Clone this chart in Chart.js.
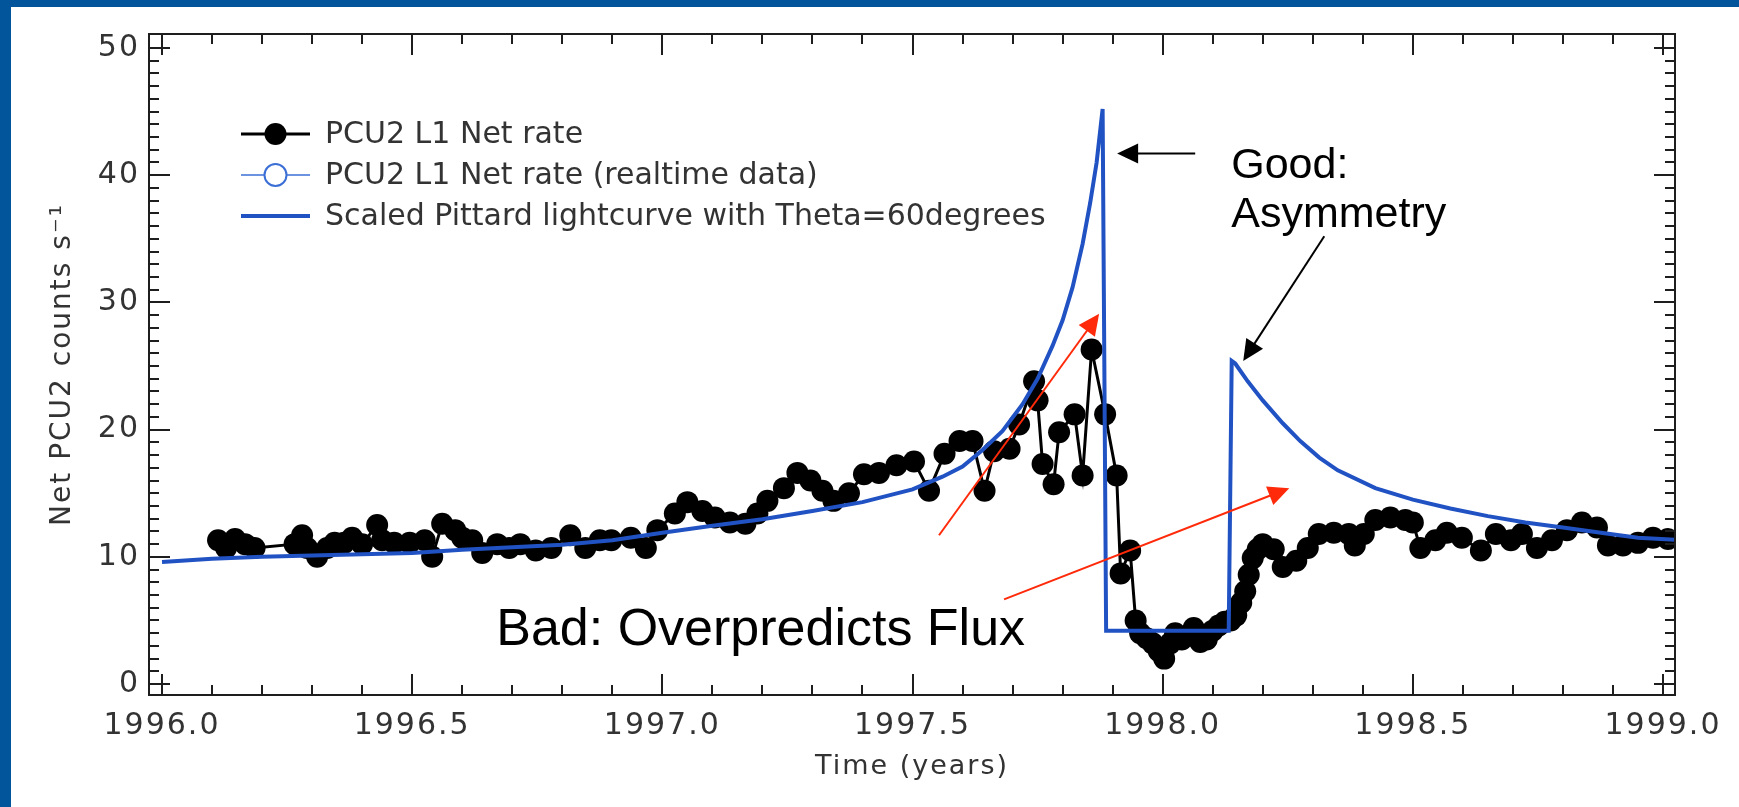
<!DOCTYPE html>
<html>
<head>
<meta charset="utf-8">
<title>PCU2 L1 Net rate vs Pittard lightcurve</title>
<script src="https://cdn.jsdelivr.net/npm/chart.js@4.4.1/dist/chart.umd.min.js"></script>
<style>
  html, body { margin: 0; padding: 0; background: #02549b; overflow: hidden; }
  #wrap { position: absolute; left: 11px; top: 7px; width: 1728px; height: 800px; background: #fff; }
</style>
</head>
<body>
<div id="wrap"><canvas id="chart" width="1728" height="800"></canvas></div>
<script>
// PCU2 L1 net rate (time in years, counts/s)
const rateYears = [
  1996.112, 1996.128, 1996.146, 1996.166, 1996.185, 1996.265, 1996.280, 1996.290, 1996.310, 1996.330,
  1996.345, 1996.364, 1996.380, 1996.400, 1996.430, 1996.440, 1996.464, 1996.495, 1996.525, 1996.540,
  1996.560, 1996.586, 1996.600, 1996.620, 1996.640, 1996.670, 1996.694, 1996.716, 1996.747, 1996.778,
  1996.816, 1996.846, 1996.875, 1996.898, 1996.937, 1996.967, 1996.990, 1997.025, 1997.050, 1997.080,
  1997.105, 1997.135, 1997.166, 1997.190, 1997.210, 1997.243, 1997.270, 1997.296, 1997.320, 1997.342,
  1997.373, 1997.403, 1997.433, 1997.468, 1997.503, 1997.533, 1997.564, 1997.594, 1997.620, 1997.644,
  1997.663, 1997.694, 1997.713, 1997.743, 1997.750, 1997.760, 1997.782, 1997.793, 1997.824, 1997.840,
  1997.858, 1997.885, 1997.908, 1997.916, 1997.935, 1997.946, 1997.955, 1997.968, 1997.980, 1997.992,
  1998.003, 1998.015, 1998.025, 1998.038, 1998.050, 1998.062, 1998.075, 1998.088, 1998.100, 1998.112,
  1998.124, 1998.136, 1998.147, 1998.157, 1998.165, 1998.172, 1998.180, 1998.190, 1998.200, 1998.222,
  1998.240, 1998.267, 1998.290, 1998.312, 1998.342, 1998.372, 1998.384, 1998.402, 1998.425, 1998.455,
  1998.485, 1998.500, 1998.515, 1998.545, 1998.568, 1998.598, 1998.636, 1998.666, 1998.696, 1998.718,
  1998.748, 1998.778, 1998.808, 1998.838, 1998.868, 1998.890, 1998.920, 1998.950, 1998.980, 1999.010
];
const rateValues = [
  11.3, 10.7, 11.4, 11.0, 10.7, 11.0, 11.7, 10.7, 10.0, 10.7,
  11.1, 11.1, 11.5, 11.0, 12.5, 11.3, 11.1, 11.1, 11.3, 10.0,
  12.6, 12.1, 11.5, 11.3, 10.3, 11.0, 10.7, 11.0, 10.5, 10.7,
  11.7, 10.7, 11.3, 11.3, 11.5, 10.7, 12.1, 13.4, 14.3, 13.6,
  13.1, 12.7, 12.6, 13.4, 14.4, 15.4, 16.6, 16.0, 15.2, 14.4,
  15.0, 16.5, 16.6, 17.2, 17.5, 15.2, 18.1, 19.1, 19.1, 15.2,
  18.3, 18.5, 20.4, 23.8, 22.3, 17.3, 15.7, 19.8, 21.2, 16.4,
  26.3, 21.2, 16.4, 8.7, 10.5, 5.0, 4.0, 3.6, 3.2, 2.6,
  2.0, 3.2, 4.0, 3.5, 3.8, 4.4, 3.3, 3.5, 4.2, 4.6,
  4.9, 5.0, 5.4, 6.4, 7.3, 8.6, 9.9, 10.6, 11.0, 10.6,
  9.2, 9.7, 10.7, 11.8, 11.9, 11.8, 10.9, 11.8, 12.9, 13.1,
  12.9, 12.7, 10.7, 11.3, 11.9, 11.5, 10.5, 11.8, 11.3, 11.8,
  10.7, 11.3, 12.1, 12.7, 12.3, 10.9, 10.9, 11.1, 11.5, 11.4
];

// scaled Pittard lightcurve, Theta = 60 degrees
const modelYears = [
  1996.00, 1996.10, 1996.20, 1996.30, 1996.40, 1996.50, 1996.60, 1996.70, 1996.80, 1996.90,
  1997.00, 1997.10, 1997.20, 1997.30, 1997.40, 1997.50, 1997.56, 1997.60, 1997.64, 1997.68,
  1997.72, 1997.75, 1997.78, 1997.80, 1997.82, 1997.84, 1997.855, 1997.868, 1997.880, 1997.887,
  1998.132, 1998.138, 1998.145, 1998.17, 1998.20, 1998.24, 1998.275, 1998.313, 1998.35, 1998.425,
  1998.50, 1998.575, 1998.65, 1998.725, 1998.80, 1998.876, 1998.95, 1999.024
];
const modelValues = [
  9.6, 9.85, 10.0, 10.1, 10.2, 10.3, 10.55, 10.75, 10.95, 11.3,
  11.9, 12.45, 12.95, 13.6, 14.3, 15.3, 16.3, 17.1, 18.4, 19.9,
  22.0, 24.0, 26.6, 28.6, 31.2, 34.6, 37.8, 41.0, 45.2, 4.2,
  4.2, 25.4, 25.2, 23.8, 22.3, 20.5, 19.1, 17.8, 16.8, 15.4,
  14.5, 13.8, 13.2, 12.7, 12.3, 11.9, 11.5, 11.35
];

// axis ranges (IDL style, slightly past the round numbers)
const xRange = [1995.974, 1999.024];
const yRange = [-0.86, 51.1];

// slide annotations, placed in data units
const notes = [
  { text: 'Good:', x: 1998.137, y: 39.8, font: '43px "Liberation Sans", Arial, sans-serif' },
  { text: 'Asymmetry', x: 1998.137, y: 35.9, font: '43px "Liberation Sans", Arial, sans-serif' },
  { text: 'Bad: Overpredicts Flux', x: 1996.668, y: 3.06, font: '52px "Liberation Sans", Arial, sans-serif' }
];
const arrows = [
  { from: [1998.065, 41.7], to: [1997.909, 41.7], color: '#000000' },
  { from: [1998.323, 35.2], to: [1998.161, 25.4], color: '#000000' },
  { from: [1997.553, 11.7], to: [1997.873, 29.1], color: '#ff2a0a' },
  { from: [1997.683, 6.66], to: [1998.253, 15.4], color: '#ff2a0a' }
];

function toPoints(xs, ys) {
  return xs.map((t, i) => ({ x: t, y: ys[i] }));
}

// IDL text is wider than DejaVu; spread the axis text a little
const wideText = {
  id: 'wideText',
  beforeDraw(chart) { chart.ctx.letterSpacing = '2px'; },
  beforeDatasetsDraw(chart) { chart.ctx.letterSpacing = '0px'; }
};

// frame with inward major/minor ticks on all four sides
const idlFrame = {
  id: 'idlFrame',
  afterDatasetsDraw(chart) {
    const { ctx, chartArea: a, scales: { x, y } } = chart;
    ctx.save();
    ctx.strokeStyle = '#1e1e1e';
    ctx.lineWidth = 2;
    ctx.beginPath();
    for (let i = 0; i <= 30; i++) {
      const px = Math.round(x.getPixelForValue(1996 + i * 0.1));
      const len = i % 5 === 0 ? 21 : 10;
      ctx.moveTo(px, a.bottom); ctx.lineTo(px, a.bottom - len);
      ctx.moveTo(px, a.top); ctx.lineTo(px, a.top + len);
    }
    for (let v = 0; v <= 50; v++) {
      const py = Math.round(y.getPixelForValue(v));
      const len = v % 10 === 0 ? 21 : 10;
      ctx.moveTo(a.left, py); ctx.lineTo(a.left + len, py);
      ctx.moveTo(a.right, py); ctx.lineTo(a.right - len, py);
    }
    ctx.stroke();
    ctx.strokeRect(a.left, a.top, a.right - a.left, a.bottom - a.top);
    ctx.restore();
  }
};

// legend in the upper left, drawn from the dataset styles
const idlLegend = {
  id: 'idlLegend',
  afterDraw(chart) {
    const { ctx, chartArea: a } = chart;
    const rows = [chart.data.datasets[1], chart.data.datasets[2], chart.data.datasets[0]];
    ctx.save();
    ctx.letterSpacing = '0px';
    ctx.font = '30px "DejaVu Sans", sans-serif';
    ctx.textBaseline = 'middle';
    ctx.textAlign = 'left';
    rows.forEach((ds, i) => {
      const ly = a.top + 100 + i * 41;
      const x0 = a.left + 92, x1 = a.left + 161;
      ctx.strokeStyle = ds.borderColor;
      ctx.lineWidth = ds.borderWidth;
      ctx.beginPath(); ctx.moveTo(x0, ly); ctx.lineTo(x1, ly); ctx.stroke();
      if (ds.pointRadius > 0) {
        ctx.beginPath();
        ctx.arc((x0 + x1) / 2, ly, ds.pointRadius, 0, Math.PI * 2);
        if (ds.pointBackgroundColor !== '#ffffff') {
          ctx.fillStyle = ds.pointBackgroundColor; ctx.fill();
        } else {
          ctx.fillStyle = '#ffffff'; ctx.fill();
          ctx.strokeStyle = ds.pointBorderColor; ctx.lineWidth = 2; ctx.stroke();
        }
      }
      ctx.fillStyle = '#333333';
      ctx.fillText(ds.label, a.left + 176, ly + 1);
    });
    ctx.restore();
  }
};

function drawArrow(ctx, x0, y0, x1, y1, color) {
  const ang = Math.atan2(y1 - y0, x1 - x0);
  const head = 21, half = 10;
  const c = Math.cos(ang), s = Math.sin(ang);
  ctx.strokeStyle = color; ctx.fillStyle = color; ctx.lineWidth = 2;
  ctx.beginPath();
  ctx.moveTo(x0, y0);
  ctx.lineTo(x1 - c * head * 0.8, y1 - s * head * 0.8);
  ctx.stroke();
  ctx.beginPath();
  ctx.moveTo(x1, y1);
  ctx.lineTo(x1 - c * head + s * half, y1 - s * head - c * half);
  ctx.lineTo(x1 - c * head - s * half, y1 - s * head + c * half);
  ctx.closePath();
  ctx.fill();
}

const slideNotes = {
  id: 'slideNotes',
  afterDraw(chart) {
    const { ctx, scales: { x, y } } = chart;
    ctx.save();
    ctx.letterSpacing = '0px';
    for (const ar of arrows) {
      drawArrow(ctx,
        x.getPixelForValue(ar.from[0]), y.getPixelForValue(ar.from[1]),
        x.getPixelForValue(ar.to[0]), y.getPixelForValue(ar.to[1]), ar.color);
    }
    ctx.fillStyle = '#000000';
    ctx.textAlign = 'left';
    ctx.textBaseline = 'alphabetic';
    for (const n of notes) {
      ctx.font = n.font;
      ctx.fillText(n.text, x.getPixelForValue(n.x), y.getPixelForValue(n.y));
    }
    ctx.restore();
  }
};

Chart.defaults.font.family = '"DejaVu Sans", sans-serif';
Chart.defaults.color = '#333333';

const chart = new Chart(document.getElementById('chart'), {
  type: 'line',
  data: {
    datasets: [
      {
        label: 'Scaled Pittard lightcurve with Theta=60degrees',
        data: toPoints(modelYears, modelValues),
        borderColor: '#2152c4',
        borderWidth: 4,
        pointRadius: 0,
        tension: 0,
        order: 0
      },
      {
        label: 'PCU2 L1 Net rate',
        data: toPoints(rateYears, rateValues),
        borderColor: '#000000',
        borderWidth: 3,
        pointRadius: 11,
        pointBackgroundColor: '#000000',
        pointBorderColor: '#000000',
        pointBorderWidth: 0,
        tension: 0,
        order: 1
      },
      {
        label: 'PCU2 L1 Net rate (realtime data)',
        data: [],
        borderColor: '#3b6fd6',
        borderWidth: 1.5,
        pointRadius: 11,
        pointBackgroundColor: '#ffffff',
        pointBorderColor: '#3b6fd6',
        order: 2
      }
    ]
  },
  options: {
    responsive: false,
    animation: false,
    events: [],
    layout: { padding: { top: 25, right: 64, left: 0, bottom: 0 } },
    plugins: {
      legend: { display: false },
      tooltip: { enabled: false }
    },
    scales: {
      x: {
        type: 'linear',
        min: xRange[0],
        max: xRange[1],
        grid: { display: false, drawTicks: false },
        border: { display: false },
        ticks: {
          stepSize: 0.5,
          includeBounds: false,
          autoSkip: false,
          maxRotation: 0,
          padding: 13,
          font: { size: 30 },
          color: '#333333',
          callback: v => v.toFixed(1)
        },
        title: {
          display: true,
          text: 'Time (years)',
          font: { size: 27 },
          color: '#333333',
          padding: { top: 0, bottom: 24 }
        },
        afterFit: s => { s.height = 112; }
      },
      y: {
        min: yRange[0],
        max: yRange[1],
        grid: { display: false, drawTicks: false },
        border: { display: false },
        ticks: {
          stepSize: 10,
          includeBounds: false,
          autoSkip: false,
          padding: 9,
          font: { size: 30 },
          color: '#333333',
          callback: v => String(v)
        },
        title: {
          display: true,
          text: 'Net PCU2 counts s\u207B\u00B9',
          font: { size: 28 },
          color: '#333333',
          padding: { top: 35, bottom: 0 }
        },
        afterFit: s => { s.width = 138; }
      }
    }
  },
  plugins: [wideText, idlFrame, idlLegend, slideNotes]
});
</script>
</body>
</html>
